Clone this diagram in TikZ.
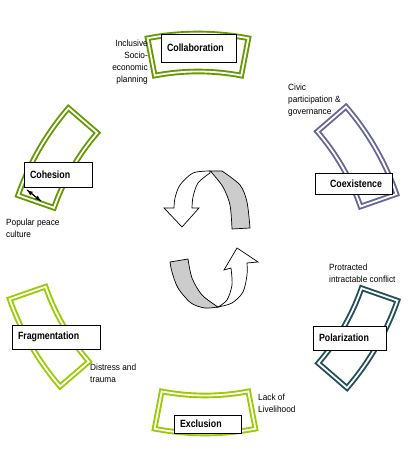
\documentclass[tikz,border=0pt]{standalone}
\usepackage{fontspec}
\newfontfamily\boxfont{Liberation Sans}[FakeStretch=0.84]
\newfontfamily\notefont{Liberation Sans}[FakeStretch=0.92]

% one curved part of the ring: x, y, rotation, colour
\newcommand{\ringpart}[4]{%
  \begin{scope}[shift={(#1,#2)},rotate=#3,shift={(0,-250)}]
    \draw[ringline,draw=#4] (79.2:269) arc[start angle=79.2,end angle=100.8,radius=269]
      -- (100.8:231) arc[start angle=100.8,end angle=79.2,radius=231] -- cycle;
  \end{scope}}

\definecolor{olive}{HTML}{669900}
\definecolor{lime}{HTML}{99CC00}
\definecolor{slate}{HTML}{666699}
\definecolor{teal}{HTML}{224F55}

\begin{document}
\begin{tikzpicture}[x=1pt,y=1pt,
    ringline/.style={line width=1.9pt,double=white,double distance=1.8pt},
    labelbox/.style={draw,fill=white,line width=0.8pt,align=left,inner xsep=6pt,
      inner ysep=0pt,font=\boxfont\bfseries\fontsize{10.5}{12}\selectfont},
    note/.style={inner sep=0pt,font=\notefont\fontsize{9}{12}\selectfont}]
  \useasboundingbox (0,0) rectangle (414,449);
  \ringpart{198}{396.5}{0}{olive}
  \ringpart{358.9}{291.5}{-60}{slate}
  \ringpart{359.9}{111.8}{-120}{teal}
  \ringpart{205}{34.5}{180}{lime}
  \ringpart{47.2}{113.3}{120}{lime}
  \ringpart{55.6}{290.2}{60}{olive}

  % small arrow on the cohesion part
  \coordinate (c1) at (27,259);
  \coordinate (c2) at (41,248);
  \draw[-latex,line width=1pt] (c1) -- (c2);
  \draw[-latex,line width=1pt] (c2) -- (c1);

  % labels on the ring
  \node[labelbox,text width=63pt,minimum height=28pt] (collab) at (198.5,401) {Collaboration};
  \node[labelbox,inner xsep=15pt,text width=47pt,minimum height=21pt] (coex) at (353.5,265.5) {Coexistence};
  \node[labelbox,text width=56pt,minimum height=25pt] (coh) at (58,274.5) {Cohesion};
  \node[labelbox,text width=61pt,minimum height=24pt] (polar) at (349.5,111) {Polarization};
  \node[labelbox,text width=76pt,minimum height=24pt] (frag) at (56,112) {Fragmentation};
  \node[labelbox,text width=55pt,minimum height=18pt] (excl) at (207.5,25) {Exclusion};

  \node[note,anchor=east,align=right] (incl) at (148,387) {Inclusive\\Socio-\\economic\\planning};
  \node[note,anchor=west,align=left] (civic) at (288,348.5) {Civic\\participation \&\\governance};
  \node[note,anchor=west,align=left] (peace) at (6,221) {Popular peace\\culture};
  \node[note,anchor=west,align=left] (protr) at (329,175.5) {Protracted\\intractable conflict};
  \node[note,anchor=west,align=left] (distr) at (90,75.5) {Distress and\\trauma};
  \node[note,anchor=west,align=left] (lack) at (258,46) {Lack of\\Livelihood};

  % turning arrows in the middle
  \draw[line width=0.7pt,fill=gray!40] (210,278) -- (222,278)
    -- plot[smooth] coordinates {(222,278) (240,264) (247,247) (250,221)} -- (232,220)
    -- plot[smooth] coordinates {(232,220) (230,244) (223,262) (212,276)} -- cycle;
  \draw[line width=0.7pt,fill=white] (210,278)
    -- plot[smooth] coordinates {(210,278) (193,276) (180,264) (175,251) (174,241)}
    -- (164,241) -- (182,222) -- (199,241) -- (192,241)
    -- plot[smooth] coordinates {(192,241) (193,252) (198,266) (210,276)} -- cycle;
  \draw[line width=0.7pt,fill=gray!40] (170,187) -- (188,190)
    -- plot[smooth] coordinates {(188,190) (192,171) (202,154) (218,142)}
    -- plot[smooth] coordinates {(218,142) (205,141) (191,146) (178,161) (172,177) (170,187)} -- cycle;
  \draw[line width=0.7pt,fill=white] (218,142)
    -- plot[smooth] coordinates {(218,142) (232,146) (243,157) (247,174) (247,186)}
    -- (258,187) -- (237,201) -- (224,179) -- (231,181)
    -- plot[smooth] coordinates {(231,181) (232,164) (227,149) (218,142)} -- cycle;
\end{tikzpicture}
\end{document}
